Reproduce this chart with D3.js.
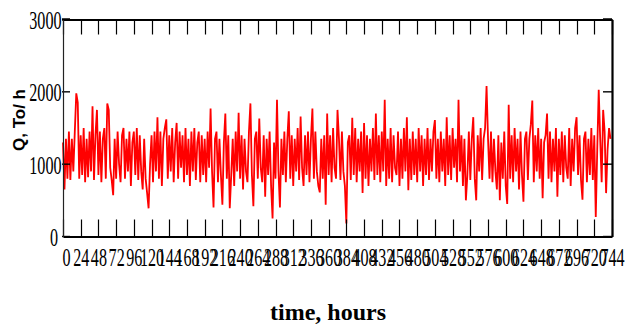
<!DOCTYPE html>
<html>
<head>
<meta charset="utf-8">
<script src="https://cdn.jsdelivr.net/npm/d3@7"></script>
<style>
  html, body { margin: 0; padding: 0; background: #fff; }
  svg { display: block; }
</style>
</head>
<body>
<svg id="chart" width="628" height="324"></svg>
<script>
// ---- data (flow Q, t/h, read every 2 hours over 744 hours) ----
const stepHours = 2;
const flowValues = [
  1300, 650, 1350, 800, 1450, 780, 1350, 900, 1450, 1980, 1850, 800,
  1400, 850, 1500, 750, 1350, 820, 1450, 900, 1800, 780, 1400, 1750,
  850, 1450, 750, 1350, 1500, 800, 1840, 1750, 950, 780, 570, 1350,
  800, 1450, 1000, 750, 1400, 1500, 800, 1350, 900, 1450, 700, 1300,
  1450, 850, 1500, 780, 1400, 900, 650, 1350, 800, 600, 390, 1000,
  1400, 750, 1450, 900, 1650, 800, 1450, 700, 1350, 1500, 1620, 800,
  1400, 900, 1500, 750, 1300, 1570, 800, 1450, 950, 1400, 750, 1500,
  850, 1350, 700, 1450, 900, 1500, 780, 1300, 1450, 750, 1400, 850,
  1350, 750, 1450, 950, 1770, 900, 400, 1350, 1450, 750, 1350, 850,
  440, 1300, 1700, 800, 1400, 390, 850, 1350, 700, 1450, 900, 1710,
  800, 1400, 650, 1350, 900, 750, 1450, 1840, 850, 420, 1350, 1450,
  800, 1630, 950, 750, 1400, 550, 1350, 850, 1450, 700, 250, 1300,
  800, 1890, 900, 400, 1350, 850, 1450, 750, 1350, 1730, 800, 1400,
  700, 1350, 900, 1500, 780, 1660, 950, 700, 1400, 850, 1450, 750,
  1350, 1770, 800, 1450, 900, 700, 610, 1350, 800, 1400, 440, 1700,
  850, 1400, 750, 1500, 950, 800, 1750, 1350, 780, 1450, 900, 700,
  180, 1300, 1400, 780, 1640, 850, 1500, 750, 1350, 900, 1450, 600,
  1570, 800, 1400, 700, 1350, 900, 1500, 780, 1700, 850, 1400, 750,
  1450, 900, 1890, 700, 1350, 800, 1500, 750, 1400, 950, 850, 1450,
  700, 1350, 800, 1500, 900, 1650, 640, 1350, 780, 1450, 850, 1350,
  750, 1500, 900, 1400, 700, 1350, 850, 1500, 780, 1350, 900, 1450,
  1610, 800, 1350, 750, 1450, 900, 1350, 700, 1650, 850, 1400, 780,
  1500, 950, 1350, 750, 1890, 900, 1400, 700, 1350, 500, 850, 1450,
  780, 1350, 1650, 800, 500, 1400, 900, 1500, 780, 1350, 1500, 2080,
  1350, 800, 1450, 750, 1350, 900, 650, 1400, 500, 1300, 800, 1450,
  700, 450, 1820, 800, 1400, 750, 1500, 900, 1350, 650, 1450, 850,
  480, 1350, 1450, 780, 1350, 1550, 1880, 750, 1400, 900, 1500, 800,
  1350, 530, 1300, 1400, 1700, 800, 1450, 750, 1350, 900, 1500, 550,
  1350, 850, 1450, 750, 1400, 950, 800, 1500, 700, 1350, 900, 1500,
  1650, 850, 1400, 780, 510, 1350, 1450, 750, 1350, 850, 1500, 780,
  1400, 270, 1200, 2030, 1350, 750, 1750, 1450, 600, 1200, 1500, 1350
];
const xTickValues = [0,24,48,72,96,120,144,168,192,216,240,264,288,312,336,360,384,408,432,456,480,504,528,552,576,600,624,648,672,696,720,744];
const yTickValues = [0, 1000, 2000, 3000];
const xTitle = "time, hours";
const yTitle = "Q, To/ h";

// ---- layout ----
const svg = d3.select("#chart");
const plotLeft = 63, plotRight = 612, plotTop = 19.5, plotBottom = 236.5;

const x = d3.scaleLinear().domain([0, 744]).range([plotLeft, plotRight]);
const y = d3.scaleLinear().domain([0, 3000]).range([plotBottom, plotTop]);

const data = flowValues.map((v, i) => ({ t: i * stepHours, q: v }));

// data line
svg.append("path")
  .datum(data)
  .attr("fill", "none")
  .attr("stroke", "#ff0000")
  .attr("stroke-width", 1.8)
  .attr("stroke-linejoin", "miter")
  .attr("d", d3.line().x(d => x(d.t)).y(d => y(d.q)));

const labelFont = "'Liberation Serif', 'Times New Roman', serif";
const sx = 0.62;

// tick marks (inside the frame)
const ticks = svg.append("g").attr("stroke", "#000");
ticks.selectAll("line.bt").data(xTickValues).join("line")
  .attr("class", "bt")
  .attr("x1", d => Math.round(x(d)) + 0.5).attr("x2", d => Math.round(x(d)) + 0.5)
  .attr("y1", plotBottom).attr("y2", plotBottom - 17)
  .attr("stroke-width", 1.2);
ticks.selectAll("line.tt").data(xTickValues).join("line")
  .attr("class", "tt")
  .attr("x1", d => Math.round(x(d)) + 0.5).attr("x2", d => Math.round(x(d)) + 0.5)
  .attr("y1", plotTop).attr("y2", plotTop + 15)
  .attr("stroke-width", 1.2);
ticks.selectAll("line.lt").data(yTickValues).join("line")
  .attr("class", "lt")
  .attr("x1", plotLeft - 1).attr("x2", plotLeft + 7)
  .attr("y1", d => y(d)).attr("y2", d => y(d))
  .attr("stroke-width", d => d === 3000 ? 2.5 : 1.4);
ticks.selectAll("line.rt").data(yTickValues).join("line")
  .attr("class", "rt")
  .attr("x1", plotRight - 9).attr("x2", plotRight)
  .attr("y1", d => y(d)).attr("y2", d => y(d))
  .attr("stroke-width", d => d === 3000 ? 2.5 : 1.4);

// bottom axis (labels)
const gB = svg.append("g")
  .attr("transform", `translate(0,${plotBottom})`)
  .call(d3.axisBottom(x).tickValues(xTickValues).tickSize(0).tickFormat(d3.format("d")));
gB.select(".domain").attr("stroke", "#000").attr("stroke-width", 2);
gB.selectAll(".tick text")
  .attr("font-family", labelFont)
  .attr("font-size", 26)
  .attr("fill", "#000")
  .attr("y", 30)
  .attr("dy", 0)
  .attr("x", d => d === 0 ? 3 / sx : 0)
  .attr("transform", `scale(${sx},1)`);

// top frame line
const gT = svg.append("g")
  .attr("transform", `translate(0,${plotTop})`)
  .call(d3.axisTop(x).tickValues([]).tickSize(0));
gT.select(".domain").attr("stroke", "#000").attr("stroke-width", 1.8);

// left axis (labels)
const gL = svg.append("g")
  .attr("transform", `translate(${plotLeft},0)`)
  .call(d3.axisLeft(y).tickValues(yTickValues).tickSize(0).tickFormat(d3.format("d")));
gL.select(".domain").attr("stroke", "#222").attr("stroke-width", 1.2);
gL.selectAll(".tick text")
  .attr("font-family", labelFont)
  .attr("font-size", 26)
  .attr("fill", "#000")
  .attr("text-anchor", "end")
  .attr("x", d => (d === 0 ? -5 : -1.5) / sx)
  .attr("dy", "0.34em")
  .attr("transform", `scale(${sx},1)`);

// right frame line
const gR = svg.append("g")
  .attr("transform", `translate(${plotRight},0)`)
  .call(d3.axisRight(y).tickValues([]).tickSize(0));
gR.select(".domain").attr("stroke", "#000").attr("stroke-width", 2.2);

// titles
svg.append("text")
  .attr("x", 328)
  .attr("y", 320)
  .attr("text-anchor", "middle")
  .attr("font-family", labelFont)
  .attr("font-weight", "bold")
  .attr("font-size", 24)
  .attr("fill", "#000")
  .text(xTitle);

svg.append("text")
  .attr("transform", "translate(25,120) rotate(-90)")
  .attr("text-anchor", "middle")
  .attr("font-family", "'Liberation Sans', Arial, sans-serif")
  .attr("font-weight", "bold")
  .attr("font-size", 17)
  .attr("fill", "#000")
  .text(yTitle);
</script>
</body>
</html>
